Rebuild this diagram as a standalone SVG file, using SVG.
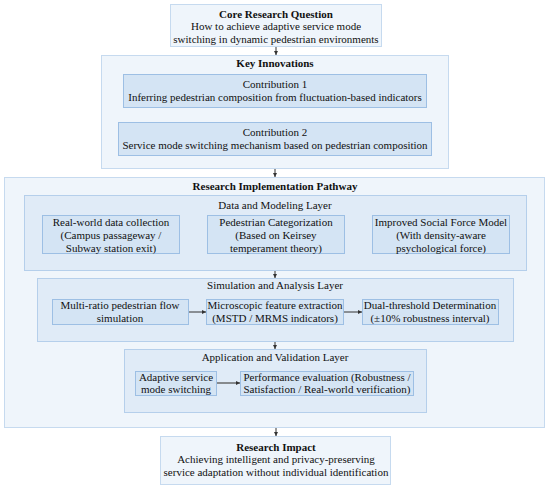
<svg xmlns="http://www.w3.org/2000/svg" width="550" height="488" viewBox="0 0 550 488" font-family="'Liberation Serif', 'Times New Roman', Times, serif">
<style>
text{font-family:'Liberation Serif', 'Times New Roman', Times, serif;font-size:11px;fill:#111;text-anchor:middle}
.b{font-weight:bold}
.outer{fill:#eff5fb;stroke:#c6daef;stroke-width:1}
.layer{fill:#e0ebf7;stroke:#b5cfeb;stroke-width:1}
.node{fill:#d4e4f4;stroke:#9dbfe4;stroke-width:1}
.c{stroke:#333;stroke-width:1;fill:none;marker-end:url(#ah)}
.c2{stroke:#555;stroke-width:1.3;fill:none;marker-end:url(#ah)}
</style>
<defs>
<marker id="ah" viewBox="0 0 6 6" refX="6" refY="3" markerWidth="4" markerHeight="4" orient="auto" markerUnits="userSpaceOnUse">
<path d="M0,0 L6,3 L0,6 z" fill="#333"/>
</marker>
</defs>
<rect width="550" height="488" fill="#fff"/>
<g id="core">
<rect class="outer" x="170.5" y="4.5" width="211" height="42"/>
<text class="b" x="276" y="18">Core Research Question</text>
<text x="276" y="30">How to achieve adaptive service mode</text>
<text x="276" y="43">switching in dynamic pedestrian environments</text>
</g>
<g id="innovations">
<rect class="outer" x="101.5" y="55.5" width="347" height="113"/>
<text class="b" x="275" y="67">Key Innovations</text>
</g>
<g id="contribution1">
<rect class="node" x="123.5" y="74.5" width="303" height="33"/>
<text x="275" y="88">Contribution 1</text>
<text x="275" y="101">Inferring pedestrian composition from fluctuation-based indicators</text>
</g>
<g id="contribution2">
<rect class="node" x="118.5" y="122.5" width="313" height="33"/>
<text x="275" y="136">Contribution 2</text>
<text x="275" y="149">Service mode switching mechanism based on pedestrian composition</text>
</g>
<g id="pathway">
<rect class="outer" x="4.5" y="177.5" width="540" height="250"/>
<text class="b" x="275" y="190">Research Implementation Pathway</text>
</g>
<g id="data-layer">
<rect class="layer" x="24.5" y="195.5" width="502" height="75"/>
<text x="275" y="209">Data and Modeling Layer</text>
</g>
<g id="data-collection">
<rect class="node" x="42.5" y="215.5" width="137" height="38"/>
<text x="111" y="226">Real-world data collection</text>
<text x="111" y="239">(Campus passageway /</text>
<text x="111" y="252">Subway station exit)</text>
</g>
<g id="categorization">
<rect class="node" x="207.5" y="215.5" width="137" height="38"/>
<text x="276" y="226">Pedestrian Categorization</text>
<text x="276" y="239">(Based on Keirsey</text>
<text x="276" y="252">temperament theory)</text>
</g>
<g id="social-force">
<rect class="node" x="372.5" y="215.5" width="137" height="38"/>
<text x="441" y="226">Improved Social Force Model</text>
<text x="441" y="239">(With density-aware</text>
<text x="441" y="252">psychological force)</text>
</g>
<g id="sim-layer">
<rect class="layer" x="37.5" y="278.5" width="476" height="63"/>
<text x="275" y="289">Simulation and Analysis Layer</text>
</g>
<g id="multi-ratio">
<rect class="node" x="52.5" y="299.5" width="136" height="25"/>
<text x="120" y="309">Multi-ratio pedestrian flow</text>
<text x="120" y="322">simulation</text>
</g>
<g id="feature-extraction">
<rect class="node" x="206.5" y="299.5" width="137" height="25"/>
<text x="275" y="309">Microscopic feature extraction</text>
<text x="275" y="322">(MSTD / MRMS indicators)</text>
</g>
<g id="dual-threshold">
<rect class="node" x="362.5" y="299.5" width="136" height="25"/>
<text x="430" y="309">Dual-threshold Determination</text>
<text x="430" y="322">(±10% robustness interval)</text>
</g>
<g id="app-layer">
<rect class="layer" x="124.5" y="349.5" width="302" height="63"/>
<text x="275" y="361">Application and Validation Layer</text>
</g>
<g id="adaptive">
<rect class="node" x="135.5" y="371.5" width="81" height="24"/>
<text x="176" y="381">Adaptive service</text>
<text x="176" y="393">mode switching</text>
</g>
<g id="performance">
<rect class="node" x="240.5" y="371.5" width="173" height="24"/>
<text x="327" y="381">Performance evaluation (Robustness /</text>
<text x="327" y="393">Satisfaction / Real-world verification)</text>
</g>
<g id="impact">
<rect class="outer" x="160.5" y="436.5" width="230" height="48"/>
<text class="b" x="276" y="451">Research Impact</text>
<text x="276" y="463">Achieving intelligent and privacy-preserving</text>
<text x="276" y="476">service adaptation without individual identification</text>
</g>
<g id="connectors">
<line class="c" x1="276" y1="47" x2="276" y2="55"/>
<line class="c" x1="275" y1="169" x2="275" y2="177"/>
<line class="c" x1="275" y1="271" x2="275" y2="278"/>
<line class="c" x1="275" y1="342" x2="275" y2="349"/>
<line class="c" x1="276" y1="428" x2="276" y2="436"/>
<line class="c" x1="189" y1="312" x2="206" y2="312"/>
<line class="c" x1="344" y1="312" x2="362" y2="312"/>
<line class="c2" x1="217" y1="383" x2="240" y2="383"/>
</g>
</svg>
